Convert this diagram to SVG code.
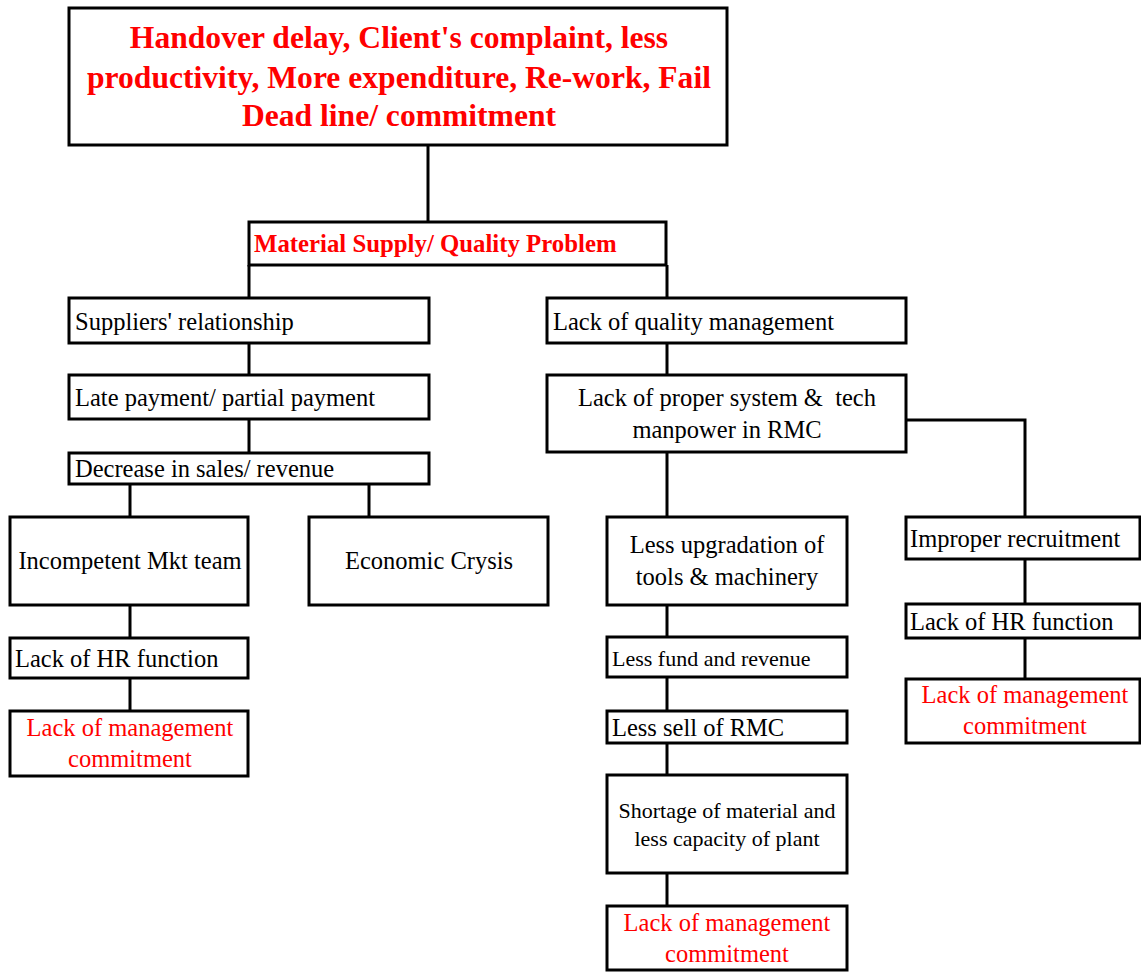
<svg xmlns="http://www.w3.org/2000/svg" width="1141" height="972" viewBox="0 0 1141 972">
<style>
.box{fill:#fff;stroke:#000;stroke-width:3}
.c{fill:none;stroke:#000;stroke-width:3}
text{font-family:"Liberation Serif","Times New Roman",serif;font-size:24.5px;fill:#000}
.r{fill:#ff0000}
.b{font-weight:bold}
.m{text-anchor:middle}
.s{font-size:22px}
.t{font-size:31.6px}
</style>
<rect width="1141" height="972" fill="#fff"/>
<g id="connectors">
<path class="c" d="M428 145V222"/>
<path class="c" d="M249 265V298M249 343V375M249 419V453"/>
<path class="c" d="M130 484V517M369 484V517M130 605V638M130 678V711"/>
<path class="c" d="M667 265V298M667 343V375M667 452V517M667 605V637M667 677V711M667 743V775M667 873V906"/>
<path class="c" d="M906 420H1025V517M1025 559V604M1025 638V679"/>
</g>
<g id="top"><rect class="box" x="69" y="8" width="658" height="137"/>
<text class="r b m t" x="399" y="48">Handover delay, Client's complaint, less</text>
<text class="r b m t" x="399" y="88">productivity, More expenditure, Re-work, Fail</text>
<text class="r b m t" x="399" y="126">Dead line/ commitment</text></g>
<g id="material"><rect class="box" x="249" y="222" width="417" height="43"/>
<text class="r b" x="254" y="252" style="font-size:24.8px">Material Supply/ Quality Problem</text></g>
<g id="suppliers"><rect class="box" x="69" y="298" width="360" height="45"/>
<text x="75" y="330">Suppliers' relationship</text></g>
<g id="late"><rect class="box" x="69" y="375" width="360" height="44"/>
<text x="75" y="406">Late payment/ partial payment</text></g>
<g id="decrease"><rect class="box" x="69" y="453" width="360" height="31"/>
<text x="75" y="477">Decrease in sales/ revenue</text></g>
<g id="incompetent"><rect class="box" x="10" y="517" width="238" height="88"/>
<text class="m" x="130" y="569">Incompetent Mkt team</text></g>
<g id="economic"><rect class="box" x="309" y="517" width="239" height="88"/>
<text class="m" x="429" y="569">Economic Crysis</text></g>
<g id="hr1"><rect class="box" x="10" y="638" width="238" height="40"/>
<text x="15" y="667">Lack of HR function</text></g>
<g id="mgmt1"><rect class="box" x="10" y="711" width="238" height="65"/>
<text class="r m" x="130" y="736">Lack of management</text>
<text class="r m" x="130" y="767">commitment</text></g>
<g id="quality"><rect class="box" x="547" y="298" width="359" height="45"/>
<text x="553" y="330">Lack of quality management</text></g>
<g id="system"><rect class="box" x="547" y="375" width="359" height="77"/>
<text class="m" x="727" y="406" xml:space="preserve" style="white-space:pre">Lack of proper system &amp;  tech</text>
<text class="m" x="727" y="438">manpower in RMC</text></g>
<g id="upgradation"><rect class="box" x="607" y="517" width="240" height="88"/>
<text class="m" x="727" y="553">Less upgradation of</text>
<text class="m" x="727" y="585">tools &amp; machinery</text></g>
<g id="fund"><rect class="box" x="607" y="637" width="240" height="40"/>
<text class="s" x="612" y="666">Less fund and revenue</text></g>
<g id="sell"><rect class="box" x="607" y="711" width="240" height="32"/>
<text x="612" y="736">Less sell of RMC</text></g>
<g id="shortage"><rect class="box" x="607" y="775" width="240" height="98"/>
<text class="s m" x="727" y="818">Shortage of material and</text>
<text class="s m" x="727" y="846">less capacity of plant</text></g>
<g id="mgmt2"><rect class="box" x="607" y="906" width="240" height="64"/>
<text class="r m" x="727" y="931">Lack of management</text>
<text class="r m" x="727" y="962">commitment</text></g>
<g id="recruitment"><rect class="box" x="906" y="517" width="234" height="42"/>
<text x="910" y="547">Improper recruitment</text></g>
<g id="hr2"><rect class="box" x="906" y="604" width="234" height="34"/>
<text x="910" y="630">Lack of HR function</text></g>
<g id="mgmt3"><rect class="box" x="906" y="679" width="234" height="64"/>
<text class="r m" x="1025" y="703">Lack of management</text>
<text class="r m" x="1025" y="734">commitment</text></g>
</svg>
